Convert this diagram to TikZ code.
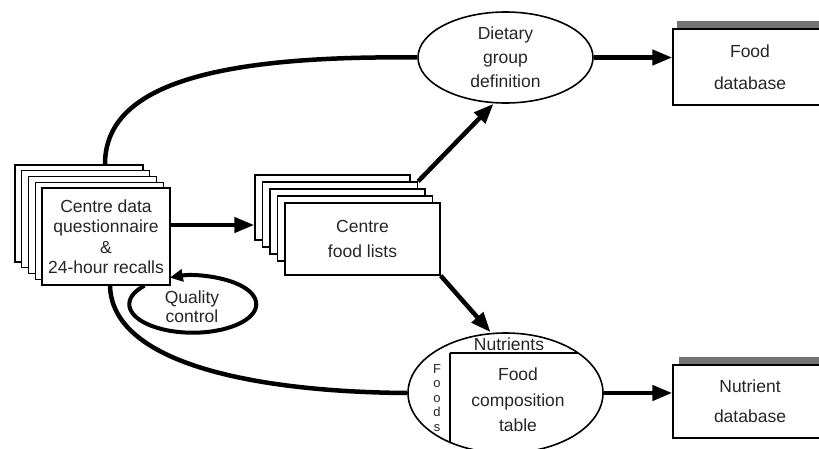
\documentclass[tikz,border=0pt]{standalone}
\usepackage{fontspec}
\setmainfont{Liberation Sans}
\usetikzlibrary{shapes.geometric,arrows.meta,calc}
\begin{document}
\begin{tikzpicture}[x=1pt,y=1pt,
  lbl/.style={font=\fontsize{17.5}{20.5}\selectfont, align=center, text=black!85},
  letter/.style={font=\fontsize{13}{13}\selectfont, inner sep=0pt, anchor=base, text=black!85},
  sheet/.style={draw, line width=1.4pt, fill=white, inner sep=0pt},
  lsheet/.style={sheet, minimum width=128pt, minimum height=97pt},
  csheet/.style={sheet, minimum width=155pt, minimum height=65pt},
  oval/.style={ellipse, draw, line width=1.6pt, fill=white, inner sep=0pt},
  dbbox/.style={sheet, minimum width=154pt},
  flow/.style={line width=4.5pt, -{Triangle[length=20pt,width=15pt]}},
  band/.style={line width=4.5pt},
  greybar/.style={fill=black!55},
]
\clip (0,0) rectangle (819,448);

% left stack
\foreach \k/\n in {4/L0,3/L1,2/L2,1/L3}
  \node[lsheet] (\n) at ({106-6.75*\k},{211.5+5.75*\k}) {};
\node[lsheet, lbl] (L4) at (106,211.5) {Centre data\\questionnaire\\\&\\24-hour recalls};

% centre stack
\foreach \k/\n in {0/C0,1/C1,2/C2,3/C3}
  \node[csheet] (\n) at ({332.5+7.5*\k},{240.5-7*\k}) {};
\node[sheet, minimum width=155pt, minimum height=72pt, lbl, font=\fontsize{17.5}{25}\selectfont] (C4) at (362.5,209) {Centre\\food lists};

% dietary group definition
\node[oval, minimum width=175pt, minimum height=91pt, lbl, font=\fontsize{17.5}{24}\selectfont] (D) at (505.5,390.5) {Dietary\\group\\definition};

% food database
\node[dbbox, minimum height=76pt, lbl, font=\fontsize{17.5}{32}\selectfont] (FD) at (750,381) {Food\\database};
\fill[greybar] ([xshift=5pt]FD.north west) rectangle ([xshift=8pt,yshift=7pt]FD.north east);

% nutrient database
\node[dbbox, minimum height=73pt, lbl, font=\fontsize{17.5}{30}\selectfont] (ND) at (750,46.5) {Nutrient\\database};
\fill[greybar] ([xshift=7pt]ND.north west) rectangle ([xshift=8pt,yshift=7pt]ND.north east);

% food composition table
\node[oval, minimum width=195pt, minimum height=120pt] (F) at (505.5,55) {};
\begin{scope}
  \clip (F.center) ellipse [x radius=97.5, y radius=60];
  \draw[line width=1.2pt] (450,95) -- (620,95) (450,95) -- (450,-20);
\end{scope}
\node[lbl, anchor=base] (Nu) at (509,97.5) {Nutrients};
\node[letter] (Fo1) at (437,75) {F};
\node[letter] (Fo2) at (437,60.5) {o};
\node[letter] (Fo3) at (437,46) {o};
\node[letter] (Fo4) at (437,31.5) {d};
\node[letter] (Fo5) at (437,17) {s};
\node[lbl, font=\fontsize{17.5}{25.5}\selectfont] (Ft) at (518,48) {Food\\composition\\table};

% quality control
\node[lbl, font=\fontsize{17.5}{19}\selectfont] (Q) at (192,141) {Quality\\control};

% connectors
\draw[flow] (L4.east |- 0,223) -- (C0.west |- 0,223);
\draw[flow] (C1.north east) -- ([xshift=-12pt]D.south);
\draw[flow] (C4.south east) -- ([xshift=-15pt]F.north);
\draw[flow] (D.east) -- (FD.west |- D.east);
\draw[flow] (F.east) -- (ND.west |- F.east);

\draw[band] ([xshift=26pt]L0.north) .. controls (105,358) and (200,393) .. (D.west);
\draw[band] ([xshift=4pt]L4.south) .. controls (112,83) and (260,56) .. (F.west);

\draw[line width=4pt, -{Triangle[length=13pt,width=12pt]}] ([xshift=103.2pt]L4.south west)
  arc[start angle=139.5, end angle=471.2, x radius=63.5, y radius=28.5];
\end{tikzpicture}
\end{document}
